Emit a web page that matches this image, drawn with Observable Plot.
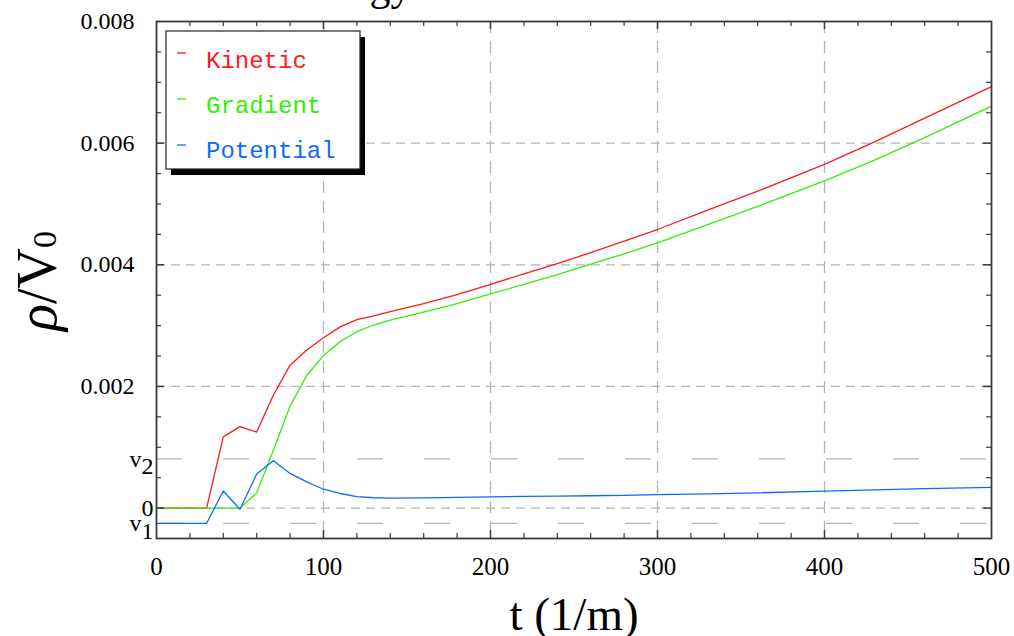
<!DOCTYPE html>
<html>
<head>
<meta charset="utf-8">
<script src="https://cdn.jsdelivr.net/npm/d3@7"></script>
<script src="https://cdn.jsdelivr.net/npm/@observablehq/plot@0.6"></script>
<style>
  html, body { margin: 0; padding: 0; background: #fff; overflow: hidden; }
  #chart { width: 1014px; height: 636px; }
</style>
</head>
<body>
<div id="chart"></div>
<script>
// ---- data ----
const seriesNames = ["Kinetic", "Gradient", "Potential"];
const seriesColors = ["#ff1a1a", "#33f000", "#0a6cff"];
const tValues = [0, 10, 20, 30, 40, 50, 60, 70, 80, 90, 100, 110, 120, 130, 140, 160, 180, 200, 220, 240, 260, 280, 300, 330, 360, 400, 430, 460, 500];
const kinetic = [0, 0, 0, 0, 0.00117, 0.00134, 0.00125, 0.00186, 0.00235, 0.0026, 0.0028, 0.00298, 0.0031, 0.00316, 0.00323, 0.00336, 0.00351, 0.00368, 0.00385, 0.00402, 0.0042, 0.00439, 0.00458, 0.0049, 0.00521, 0.00565, 0.00602, 0.00641, 0.00693];
const gradient = [0, 0, 0, 0, 0, 0, 0.00025, 0.00095, 0.00168, 0.00218, 0.00251, 0.00274, 0.0029, 0.00301, 0.00309, 0.00322, 0.00336, 0.00352, 0.00368, 0.00384, 0.00401, 0.00418, 0.00436, 0.00466, 0.00496, 0.00538, 0.00572, 0.00609, 0.00661];
const potential = [-0.00025, -0.00025, -0.00025, -0.00025, 0.00028, -0.00002, 0.00056, 0.00078, 0.00057, 0.00043, 0.00031, 0.00024, 0.00019, 0.00017, 0.000165, 0.000168, 0.000176, 0.000185, 0.000191, 0.000197, 0.000203, 0.00021, 0.00022, 0.000235, 0.00025, 0.00028, 0.0003, 0.00032, 0.00034];

const xTickValues = [0, 100, 200, 300, 400, 500];
const xMinorTicks = [20, 40, 60, 80, 120, 140, 160, 180, 220, 240, 260, 280, 320, 340, 360, 380, 420, 440, 460, 480];
const xMajorTicks = [100, 200, 300, 400];
const yTickValues = [0.002, 0.004, 0.006, 0.008];
const yMinorTicks = [0.0005, 0.001, 0.0015, 0.0025, 0.003, 0.0035, 0.0045, 0.005, 0.0055, 0.0065, 0.007, 0.0075];
const yMajorTicks = [0, 0.002, 0.004, 0.006];
const yGrid = [0, 0.002, 0.004, 0.006];
const vLevelValues = [-0.00025, 0, 0.00081];
const vLevelLabels = ["v_1", "0", "v_2"];
const vDashed = [-0.00025, 0.00081];

const titleText = "Energy";
const xTitle = "t (1/m)";

// ---- build table ----
const seriesValues = [kinetic, gradient, potential];
const rows = seriesNames.flatMap((name, s) =>
  tValues.map((t, i) => ({series: name, t, v: seriesValues[s][i]}))
);

const W = 1014, H = 636, mL = 156, mR = 23, mT = 21, mB = 98;
const PW = W - mL - mR, PH = H - mT - mB;
const gridColor = "#b4b4b4";
const frameColor = "#3a3a3a";
const vLabelMap = new Map(vLevelValues.map((v, i) => [v, vLevelLabels[i]]));

const plot = Plot.plot({
  width: W, height: H,
  marginLeft: mL, marginRight: mR, marginTop: mT, marginBottom: mB,
  style: {background: "white", fontFamily: "'Liberation Serif', serif", color: "#000", overflow: "visible"},
  x: {domain: [0, 500], label: null},
  y: {domain: [-0.0005, 0.008], label: null},
  color: {domain: seriesNames, range: seriesColors},
  marks: [
    Plot.ruleX(xMajorTicks, {stroke: gridColor, strokeWidth: 1.3, strokeDasharray: "12,8"}),
    Plot.ruleY(yGrid, {stroke: gridColor, strokeWidth: 1.3, strokeDasharray: "9,6"}),
    Plot.ruleY(vDashed, {stroke: gridColor, strokeWidth: 1.3, strokeDasharray: "26,41"}),
    Plot.line(rows, {x: "t", y: "v", z: "series", stroke: "series", strokeWidth: 1.3}),
    // inward frame ticks
    Plot.tickX(xMinorTicks, {x: d => d, insetTop: PH - 5, stroke: frameColor, strokeWidth: 1.2}),
    Plot.tickX(xMinorTicks, {x: d => d, insetBottom: PH - 5, stroke: frameColor, strokeWidth: 1.2}),
    Plot.tickX(xMajorTicks, {x: d => d, insetTop: PH - 8, stroke: frameColor, strokeWidth: 1.5}),
    Plot.tickX(xMajorTicks, {x: d => d, insetBottom: PH - 8, stroke: frameColor, strokeWidth: 1.5}),
    Plot.tickY(yMinorTicks, {y: d => d, insetRight: PW - 5, stroke: frameColor, strokeWidth: 1.2}),
    Plot.tickY(yMinorTicks, {y: d => d, insetLeft: PW - 5, stroke: frameColor, strokeWidth: 1.2}),
    Plot.tickY(yMajorTicks, {y: d => d, insetRight: PW - 8, stroke: frameColor, strokeWidth: 1.5}),
    Plot.tickY(yMajorTicks, {y: d => d, insetLeft: PW - 8, stroke: frameColor, strokeWidth: 1.5}),
    Plot.frame({stroke: frameColor, strokeWidth: 1.8}),
    Plot.axisX(xTickValues, {tickSize: 0, tickPadding: 19, fontSize: 25, label: null}),
    Plot.axisY(yTickValues, {tickSize: 0, tickPadding: 22, fontSize: 24, tickFormat: d3.format(".3f"), label: null}),
    Plot.axisY(vLevelValues, {tickSize: 0, tickPadding: 3, fontSize: 24, tickFormat: d => vLabelMap.get(d), label: null})
  ]
});

document.getElementById("chart").appendChild(plot);
const svg = d3.select(plot);

// subscripts on v1 / v2 labels
svg.selectAll('[aria-label="y-axis tick label"] text').each(function () {
  const s = this.textContent;
  if (s.includes("_")) {
    const [a, b] = s.split("_");
    const t = d3.select(this);
    t.text(null);
    t.append("tspan").text(a);
    t.append("tspan").attr("dy", "0.32em").text(b);
  }
});

// clipped title at the very top
svg.append("text")
  .attr("x", 291).attr("y", 0)
  .attr("text-anchor", "start")
  .attr("font-family", "'Liberation Serif', serif").attr("font-size", 42)
  .text(titleText);

// y title
const yt = svg.append("text")
  .attr("transform", "translate(56,281) rotate(-90)")
  .attr("text-anchor", "middle")
  .attr("font-family", "'Liberation Serif', serif")
  .attr("font-size", 56);
yt.append("tspan").attr("font-style", "italic").text("ρ");
yt.append("tspan").text("/V");
yt.append("tspan").attr("font-size", 34).text("0");

// x title
svg.append("text")
  .attr("x", 574).attr("y", 630)
  .attr("text-anchor", "middle")
  .attr("font-family", "'Liberation Serif', serif")
  .attr("font-size", 47)
  .text(xTitle);

// legend with drop shadow
const lg = svg.append("g").attr("text-anchor", "start");
lg.append("rect").attr("x", 171).attr("y", 37).attr("width", 194).attr("height", 138).attr("fill", "#000");
lg.append("rect").attr("x", 166).attr("y", 31).attr("width", 194).attr("height", 138)
  .attr("fill", "#fff").attr("stroke", "#222").attr("stroke-width", 1.2);
seriesNames.forEach((name, i) => {
  lg.append("line")
    .attr("x1", 177).attr("x2", 186)
    .attr("y1", 53 + 46 * i).attr("y2", 53 + 46 * i)
    .attr("stroke", seriesColors[i]).attr("stroke-width", 1.3);
  lg.append("text")
    .attr("x", 206).attr("y", 68 + 45 * i)
    .attr("text-anchor", "start")
    .attr("font-family", "'Liberation Mono', monospace").attr("font-size", 24)
    .attr("fill", seriesColors[i])
    .text(name);
});
</script>
</body>
</html>
